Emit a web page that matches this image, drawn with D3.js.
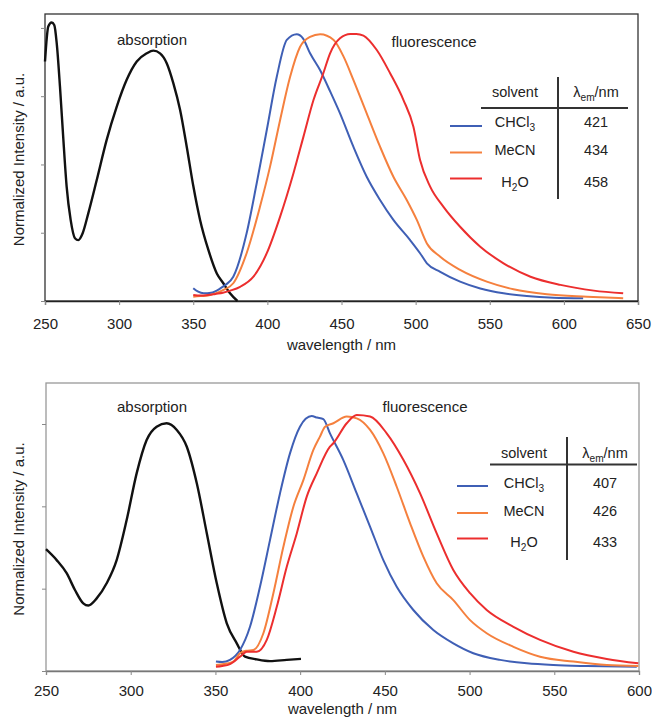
<!DOCTYPE html>
<html>
<head>
<meta charset="utf-8">
<script src="https://cdn.jsdelivr.net/npm/d3@7"></script>
<style>
  body { margin: 0; background: #fff; }
  svg { display: block; font-family: "Liberation Sans", Arial, sans-serif; }
  text { fill: #222; }
</style>
</head>
<body>
<script>
// ---- data (wavelength nm, normalized intensity) ----
var solvents = ['CHCl3', 'MeCN', 'H2O'];
var seriesColors = ['#3f5fb5', '#f5803e', '#ec2e2e'];

// top panel
var topXTicks = [250, 300, 350, 400, 450, 500, 550, 600, 650];
var topYTicks = [0, 0.25, 0.5, 0.75, 1];
var topLambdaEm = [421, 434, 458];
var topAbs = [[250,0.877],[252.2,1.005],[254.5,1.02],[256.3,1.01],[257.9,0.944],[260.1,0.785],[262.4,0.59],[264.6,0.419],[267.3,0.297],[270.2,0.23],[272.5,0.223],[275.4,0.248],[279.2,0.321],[284.9,0.443],[291.6,0.59],[298.4,0.712],[305.1,0.81],[311.9,0.877],[318.6,0.907],[323.1,0.917],[327.6,0.907],[332.1,0.871],[336.6,0.797],[341.1,0.7],[345.6,0.565],[350.1,0.419],[354.6,0.297],[360.2,0.187],[365.9,0.101],[370.3,0.065],[374.8,0.028],[379.8,0]];
var topCHCl3 = [[350,0.047],[353,0.035],[357,0.028],[362,0.03],[368,0.045],[372,0.06],[377,0.089],[386,0.248],[392.8,0.431],[399.6,0.626],[406.3,0.82],[413.1,0.956],[419.8,0.977],[424,0.962],[428.8,0.907],[435.6,0.845],[442.3,0.768],[449,0.687],[458,0.565],[467,0.455],[476,0.37],[485,0.297],[496.3,0.223],[503,0.175],[507.6,0.138],[516.6,0.107],[530,0.071],[543.6,0.046],[559.3,0.028],[575,0.018],[593,0.012],[613,0.01]];
var topMeCN = [[350,0.016],[355,0.018],[360,0.02],[365,0.028],[370,0.04],[377,0.065],[386,0.175],[395,0.345],[401.8,0.492],[408.6,0.663],[415.3,0.82],[422,0.93],[428.8,0.967],[435.6,0.977],[444.7,0.956],[451.4,0.895],[458,0.81],[467,0.687],[476,0.565],[485,0.455],[494,0.37],[500.8,0.297],[507.6,0.211],[516.6,0.162],[530,0.114],[548,0.071],[566,0.043],[588.6,0.025],[615.6,0.016],[640,0.01]];
var topH2O = [[350,0.022],[355,0.02],[360,0.022],[365,0.026],[370,0.03],[375,0.038],[381.6,0.052],[390.6,0.089],[399.6,0.175],[408.6,0.309],[417.6,0.468],[424.3,0.601],[431.1,0.736],[437.8,0.835],[442.3,0.907],[449,0.962],[456,0.978],[460,0.978],[464.8,0.972],[473.8,0.919],[482.8,0.834],[491.8,0.736],[498.5,0.638],[503,0.516],[509.8,0.419],[518.8,0.345],[530,0.272],[543.6,0.199],[559.3,0.138],[577.5,0.089],[597.7,0.059],[620.2,0.038],[640,0.028]];

// bottom panel
var botXTicks = [250, 300, 350, 400, 450, 500, 550, 600];
var botYTicks = [0, 1 / 3, 2 / 3, 1];
var botLambdaEm = [407, 426, 433];
var botAbs = [[250,0.493],[256.3,0.449],[262.2,0.396],[267.1,0.328],[272,0.274],[275,0.265],[279.9,0.294],[285.8,0.355],[291.7,0.449],[297.6,0.611],[303.5,0.8],[309.4,0.935],[315.3,0.989],[321.2,1.003],[327.2,0.976],[333.1,0.908],[339,0.76],[344.9,0.558],[350.8,0.355],[356.7,0.193],[362.6,0.112],[367.5,0.058],[374.4,0.047],[382.2,0.04],[392.1,0.045],[400.5,0.049]];
var botCHCl3 = [[350.3,0.038],[354,0.036],[358.6,0.045],[364.5,0.085],[370.4,0.179],[376.3,0.341],[382.2,0.53],[388.1,0.719],[394,0.881],[399.9,0.989],[406.8,1.032],[410,1.026],[413.7,1.02],[417.6,0.962],[425.5,0.854],[433.4,0.719],[441.3,0.584],[449.1,0.449],[457,0.341],[466.8,0.247],[478.6,0.166],[490.4,0.112],[502.2,0.072],[518,0.045],[533.8,0.031],[549.5,0.024],[569.2,0.02],[598.7,0.017]];
var botMeCN = [[350.3,0.024],[355,0.028],[360.5,0.038],[364.5,0.072],[368,0.082],[372.4,0.085],[378.3,0.153],[384.2,0.315],[390.1,0.503],[396,0.665],[401.9,0.773],[407.8,0.895],[411.7,0.949],[414.7,0.989],[419.6,1.003],[427.5,1.03],[433.4,1.023],[441.3,0.976],[449.1,0.881],[457,0.746],[464.9,0.598],[472.7,0.463],[480.6,0.355],[490.4,0.287],[500.3,0.206],[510.1,0.153],[525.9,0.098],[541.6,0.058],[561.3,0.038],[581,0.024],[599.6,0.02]];
var botH2O = [[350.3,0.017],[354,0.02],[358.6,0.028],[364.5,0.058],[368.5,0.078],[374.4,0.078],[380.3,0.126],[386.2,0.26],[392.1,0.422],[398,0.557],[403.9,0.706],[409.8,0.8],[417.6,0.908],[419.6,0.922],[427.5,1.003],[433.4,1.036],[441.3,1.03],[451.1,0.962],[461,0.854],[470.8,0.719],[480.6,0.557],[490.4,0.409],[500.3,0.315],[510.1,0.247],[525.9,0.179],[541.6,0.126],[561.3,0.078],[581,0.049],[599.6,0.031]];

var svg = d3.select('body')
  .append('svg')
  .attr('width', 652)
  .attr('height', 717);

function subText(sel, main, sub, rest) {
  sel.append('tspan').text(main);
  sel.append('tspan').attr('font-size', '0.7em').attr('dy', 4).text(sub);
  if (rest) sel.append('tspan').attr('dy', -4).text(rest);
}

function solventLabel(sel, name) {
  if (name === 'CHCl3') subText(sel, 'CHCl', '3');
  else if (name === 'H2O') subText(sel, 'H', '2', 'O');
  else sel.text(name);
}

function drawPanel(p) {
  var x = d3.scaleLinear().domain(p.xDomain).range([p.left, p.right]);
  var y = d3.scaleLinear().domain(p.yDomain).range([p.bottom, p.top]);
  var g = svg.append('g');

  // frame
  g.append('rect')
    .attr('x', p.left).attr('y', p.top)
    .attr('width', p.right - p.left).attr('height', p.bottom - p.top)
    .attr('fill', 'none').attr('stroke', p.frame).attr('stroke-width', 1.3);

  // x axis
  var xAxis = g.append('g')
    .attr('transform', 'translate(0,' + p.bottom + ')')
    .call(d3.axisBottom(x).tickValues(p.xTicks).tickSize(4).tickPadding(p.tickPad));
  xAxis.select('.domain').attr('stroke', p.axis).attr('stroke-width', 1.3);
  xAxis.selectAll('.tick line').attr('stroke', '#888');
  xAxis.selectAll('.tick text')
    .attr('font-family', '"Liberation Sans", Arial, sans-serif')
    .attr('font-size', 15).attr('fill', '#222');

  // y axis, ticks only
  var yAxis = g.append('g')
    .attr('transform', 'translate(' + p.left + ',0)')
    .call(d3.axisLeft(y).tickValues(p.yTicks).tickSize(4).tickFormat(''));
  yAxis.select('.domain').remove();
  yAxis.selectAll('.tick line').attr('stroke', '#888');

  // titles
  g.append('text')
    .attr('x', (p.left + p.right) / 2).attr('y', p.bottom + p.titleGap)
    .attr('text-anchor', 'middle').attr('font-size', 15)
    .text('wavelength / nm');
  g.append('text')
    .attr('transform', 'translate(24,' + ((p.top + p.bottom) / 2 + 2) + ') rotate(-90)')
    .attr('text-anchor', 'middle').attr('font-size', 15)
    .text('Normalized Intensity / a.u.');

  var line = d3.line()
    .x(function(d) { return x(d[0]); })
    .y(function(d) { return y(d[1]); })
    .curve(d3.curveMonotoneX);

  var series = [p.abs].concat(p.fl);
  var colors = ['#111'].concat(seriesColors);
  g.selectAll('path.spec')
    .data(series)
    .enter().append('path')
    .attr('class', 'spec')
    .attr('d', line)
    .attr('fill', 'none')
    .attr('stroke', function(d, i) { return colors[i]; })
    .attr('stroke-width', function(d, i) { return i === 0 ? 2.4 : 2; })
    .attr('stroke-linejoin', 'round');

  g.append('text').attr('x', p.absLabel[0]).attr('y', p.absLabel[1])
    .attr('text-anchor', 'middle').attr('font-size', 15).text('absorption');
  g.append('text').attr('x', p.flLabel[0]).attr('y', p.flLabel[1])
    .attr('text-anchor', 'middle').attr('font-size', 15).text('fluorescence');

  // legend table
  var L = p.legend;
  var lg = g.append('g').attr('font-size', 14.5);
  lg.append('line')
    .attr('x1', L.vx).attr('x2', L.vx).attr('y1', L.vTop).attr('y2', L.vBottom)
    .attr('stroke', '#333').attr('stroke-width', 2);
  lg.append('line')
    .attr('x1', L.hx1).attr('x2', L.hx2).attr('y1', L.hy).attr('y2', L.hy)
    .attr('stroke', '#333').attr('stroke-width', 2);
  lg.append('text').attr('x', L.col1).attr('y', L.headY)
    .attr('text-anchor', 'middle').text('solvent');
  var hdr = lg.append('text').attr('x', L.col2).attr('y', L.headY)
    .attr('text-anchor', 'middle');
  subText(hdr, 'λ', 'em', '/nm');

  solvents.forEach(function(s, i) {
    lg.append('line')
      .attr('x1', L.lx1).attr('x2', L.lx2)
      .attr('y1', L.lineY[i]).attr('y2', L.lineY[i])
      .attr('stroke', seriesColors[i]).attr('stroke-width', 2);
    var t = lg.append('text').attr('x', L.col1).attr('y', L.rowY[i])
      .attr('text-anchor', 'middle');
    solventLabel(t, s);
    lg.append('text').attr('x', L.col2).attr('y', L.rowY[i])
      .attr('text-anchor', 'middle').text(p.lambda[i]);
  });
}

drawPanel({
  left: 45, right: 638, top: 14, bottom: 301,
  xDomain: [250, 650], yDomain: [0, 1.051],
  xTicks: topXTicks, yTicks: topYTicks,
  frame: '#333', axis: '#222', titleGap: 49, tickPad: 13,
  abs: topAbs, fl: [topCHCl3, topMeCN, topH2O],
  lambda: topLambdaEm,
  absLabel: [152, 45], flLabel: [434, 47],
  legend: {
    vx: 558, vTop: 77, vBottom: 199, hx1: 481, hx2: 628, hy: 108,
    col1: 515, col2: 596, headY: 97,
    rowY: [127, 155, 187], lineY: [126, 152.5, 178.5], lx1: 450, lx2: 482
  }
});

drawPanel({
  left: 46, right: 639, top: 383, bottom: 671,
  xDomain: [250, 600], yDomain: [0, 1.166],
  xTicks: botXTicks, yTicks: botYTicks,
  frame: '#999', axis: '#777', titleGap: 42.5, tickPad: 10.5,
  abs: botAbs, fl: [botCHCl3, botMeCN, botH2O],
  lambda: botLambdaEm,
  absLabel: [152, 412], flLabel: [425, 412],
  legend: {
    vx: 567, vTop: 437, vBottom: 560, hx1: 490, hx2: 637, hy: 464.5,
    col1: 524, col2: 605, headY: 458,
    rowY: [488, 516, 547], lineY: [486, 513, 538.5], lx1: 457, lx2: 488
  }
});
</script>
</body>
</html>
